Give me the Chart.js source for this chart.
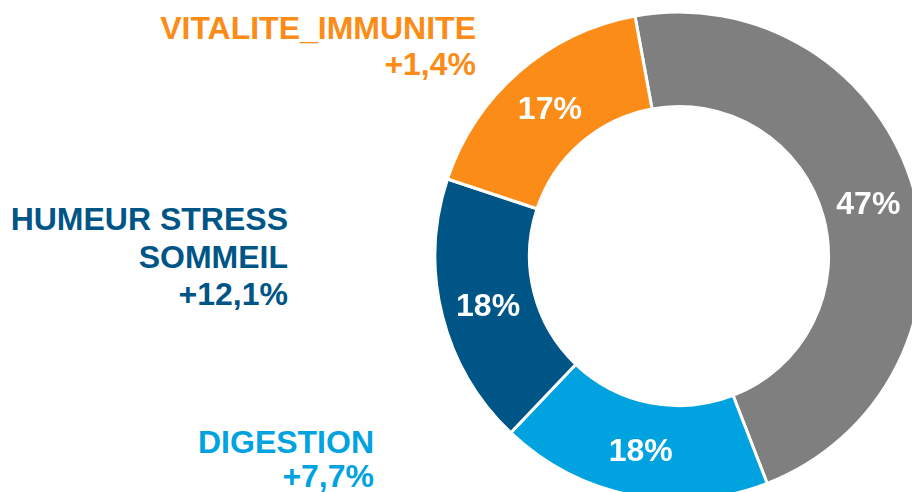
<!DOCTYPE html>
<html>
<head>
<meta charset="utf-8">
<script src="https://cdn.jsdelivr.net/npm/chart.js@4/dist/chart.umd.min.js"></script>
<style>
  html, body { margin: 0; padding: 0; width: 912px; height: 492px; overflow: hidden; background: #fff; }
  #wrap { position: absolute; left: 434px; top: 11px; width: 490px; height: 490px; }
  .lbl { position: absolute; right: 0; font-family: "Liberation Sans", Arial, sans-serif; font-weight: bold; font-size: 32px; line-height: 32px; white-space: nowrap; text-align: right; }
</style>
</head>
<body>
<div id="labels"></div>
<div id="wrap"><canvas id="c"></canvas></div>
<script>
// Data (clockwise from the top)
const categories = ["AUTRES", "DIGESTION", "HUMEUR STRESS SOMMEIL", "VITALITE_IMMUNITE"];
const shares = [47, 18, 18, 17];
const shareLabels = ["47%", "18%", "18%", "17%"];
const colors = ["#7F7F7F", "#00A3E0", "#005587", "#FB8C17"];
// Outside labels (lines) and their growth values
const sideTitles = [[], ["DIGESTION"], ["HUMEUR STRESS", "SOMMEIL"], ["VITALITE_IMMUNITE"]];
const growth = ["", "+7,7%", "+12,1%", "+1,4%"];

// side label layout: right edge and baselines for each line
const sideLayout = [
  null,
  { right: 374, baselines: [453, 487] },
  { right: 288, baselines: [230, 268, 305] },
  { right: 476, baselines: [39, 75] }
];
const labelsDiv = document.getElementById('labels');
sideTitles.forEach((lines, i) => {
  const lay = sideLayout[i];
  if (!lay) return;
  const all = lines.concat([growth[i]]);
  all.forEach((txt, j) => {
    const d = document.createElement('div');
    d.className = 'lbl';
    d.textContent = txt;
    d.style.color = colors[i];
    d.style.right = (912 - lay.right) + 'px';
    d.style.top = (lay.baselines[j] - 27.1) + 'px';
    labelsDiv.appendChild(d);
  });
});

const insideLabels = {
  id: 'insideLabels',
  afterDatasetsDraw(chart) {
    const ctx = chart.ctx;
    const meta = chart.getDatasetMeta(0);
    ctx.save();
    ctx.fillStyle = '#FFFFFF';
    ctx.font = 'bold 32px "Liberation Sans", Arial, sans-serif';
    ctx.textAlign = 'center';
    ctx.textBaseline = 'alphabetic';
    meta.data.forEach((arc, i) => {
      const p = arc.tooltipPosition();
      ctx.fillText(shareLabels[i], p.x, p.y + 12);
    });
    ctx.restore();
  }
};

new Chart(document.getElementById('c'), {
  type: 'doughnut',
  data: {
    labels: categories,
    datasets: [{
      data: shares,
      backgroundColor: colors,
      borderColor: '#FFFFFF',
      borderWidth: 3
    }]
  },
  options: {
    responsive: true,
    maintainAspectRatio: false,
    animation: false,
    events: [],
    rotation: -10.4,
    radius: 244,
    cutout: '61.3%',
    layout: { padding: 0 },
    plugins: { legend: { display: false }, tooltip: { enabled: false } }
  },
  plugins: [insideLabels]
});
</script>
</body>
</html>
